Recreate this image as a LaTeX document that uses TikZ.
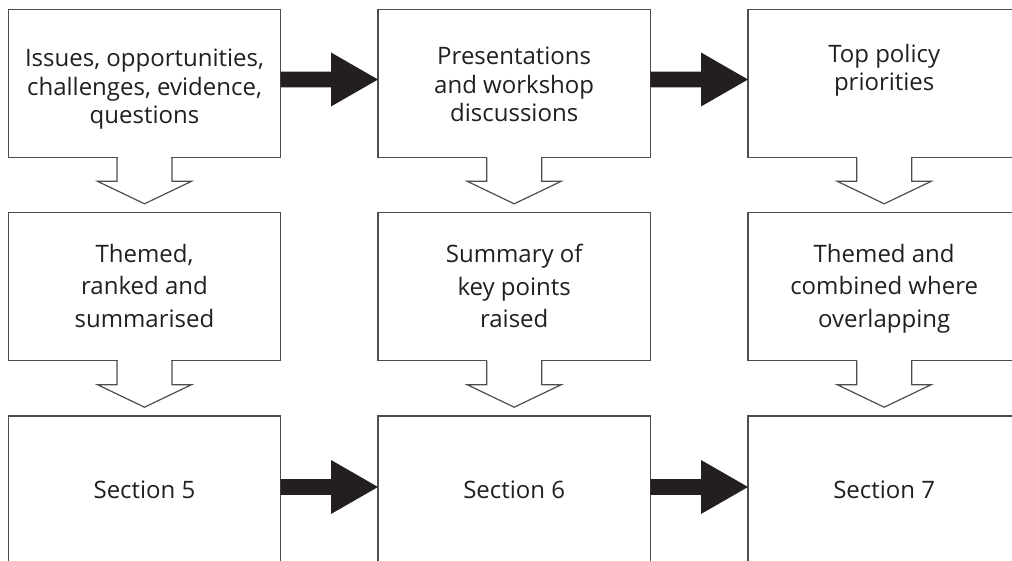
\documentclass[tikz,border=0pt]{standalone}
\usepackage{fontspec}
\setmainfont{Open Sans}
\usetikzlibrary{calc}
\definecolor{ink}{HTML}{231F20}
\definecolor{edge}{HTML}{4D4D4D}
\tikzset{
  box/.style={draw=edge, line width=1.2pt, fill=white, rectangle, minimum width=272.4pt,
    minimum height=148pt, anchor=north west, inner sep=0pt, outer sep=0pt},
  lowbox/.style={box, minimum height=200pt},
  txt/.style={anchor=north, align=center, inner sep=0pt, text=ink, font=\fontsize{24}{28.5}\selectfont},
  txtb/.style={txt, font=\fontsize{24}{32.5}\selectfont},
  txtc/.style={anchor=base, inner sep=0pt, text=ink, font=\fontsize{24}{28.5}\selectfont},
  hollow/.style={draw=edge, line width=1.2pt, line join=miter},
  solidfill/.style={fill=ink, draw=none},
}
\newcommand{\hollowdown}[1]{%
  \fill[white] ($(#1.south)+(-26.8,1.5)$) rectangle ($(#1.south)+(26.8,-1.5)$);
  \draw[hollow] ($(#1.south)+(-27.5,0)$) -- ++(0,24) -- ++(-19.5,0) -- ($(#1.south)+(0,46.5)$)
    -- ($(#1.south)+(47,24)$) -- ++(-19.5,0) -- ($(#1.south)+(27.5,0)$);}
\newcommand{\solidarrow}[3]{%
  \fill[solidfill] ($(#1.east|-0,#3)+(0,-7.8)$) -- ($(#2.west|-0,#3)+(-47,-7.8)$)
    -- ($(#2.west|-0,#3)+(-47,-27)$) -- (#2.west|-0,#3) -- ($(#2.west|-0,#3)+(-47,27)$)
    -- ($(#2.west|-0,#3)+(-47,7.8)$) -- ($(#1.east|-0,#3)+(0,7.8)$) -- cycle;}
\begin{document}
\begin{tikzpicture}[x=1pt, y=-1pt]
\useasboundingbox (0,0) rectangle (1012,561);
\clip (0,0) rectangle (1012,561);
% row 1
\node[box] (a1) at (8.3,9.3) {};
\node[box] (a2) at (378,9.3) {};
\node[box] (a3) at (748,9.3) {};
% row 2
\node[box] (b1) at (8.3,212.7) {};
\node[box] (b2) at (378,212.7) {};
\node[box] (b3) at (748,212.7) {};
% row 3
\node[lowbox] (c1) at (8.3,416) {};
\node[lowbox] (c2) at (378,416) {};
\node[lowbox] (c3) at (748,416) {};
% texts
\node[txt] (a1t) at ($(a1.north)+(0,39.7)$) {Issues, opportunities,\\challenges, evidence,\\questions};
\node[txt] (a2t) at ($(a2.north)+(0,37.7)$) {Presentations\\and workshop\\discussions};
\node[txt] (a3t) at ($(a3.north)+(0,34.7)$) {Top policy\\priorities};
\node[txtb] (b1t) at ($(b1.north)+(0,31.3)$) {Themed,\\ranked and\\summarised};
\node[txtb] (b2t) at ($(b2.north)+(0,31.3)$) {Summary of\\key points\\raised};
\node[txtb] (b3t) at ($(b3.north)+(0,31.3)$) {Themed and\\combined where\\overlapping};
\node[txtc] (c1t) at ($(c1.north)+(0,82)$) {Section 5};
\node[txtc] (c2t) at ($(c2.north)+(0,82)$) {Section 6};
\node[txtc] (c3t) at ($(c3.north)+(0,82)$) {Section 7};
% hollow down arrows
\hollowdown{a1}\hollowdown{a2}\hollowdown{a3}
\hollowdown{b1}\hollowdown{b2}\hollowdown{b3}
% solid arrows
\solidarrow{a1}{a2}{79.5}
\solidarrow{a2}{a3}{79.5}
\solidarrow{c1}{c2}{487}
\solidarrow{c2}{c3}{487}
\end{tikzpicture}
\end{document}
